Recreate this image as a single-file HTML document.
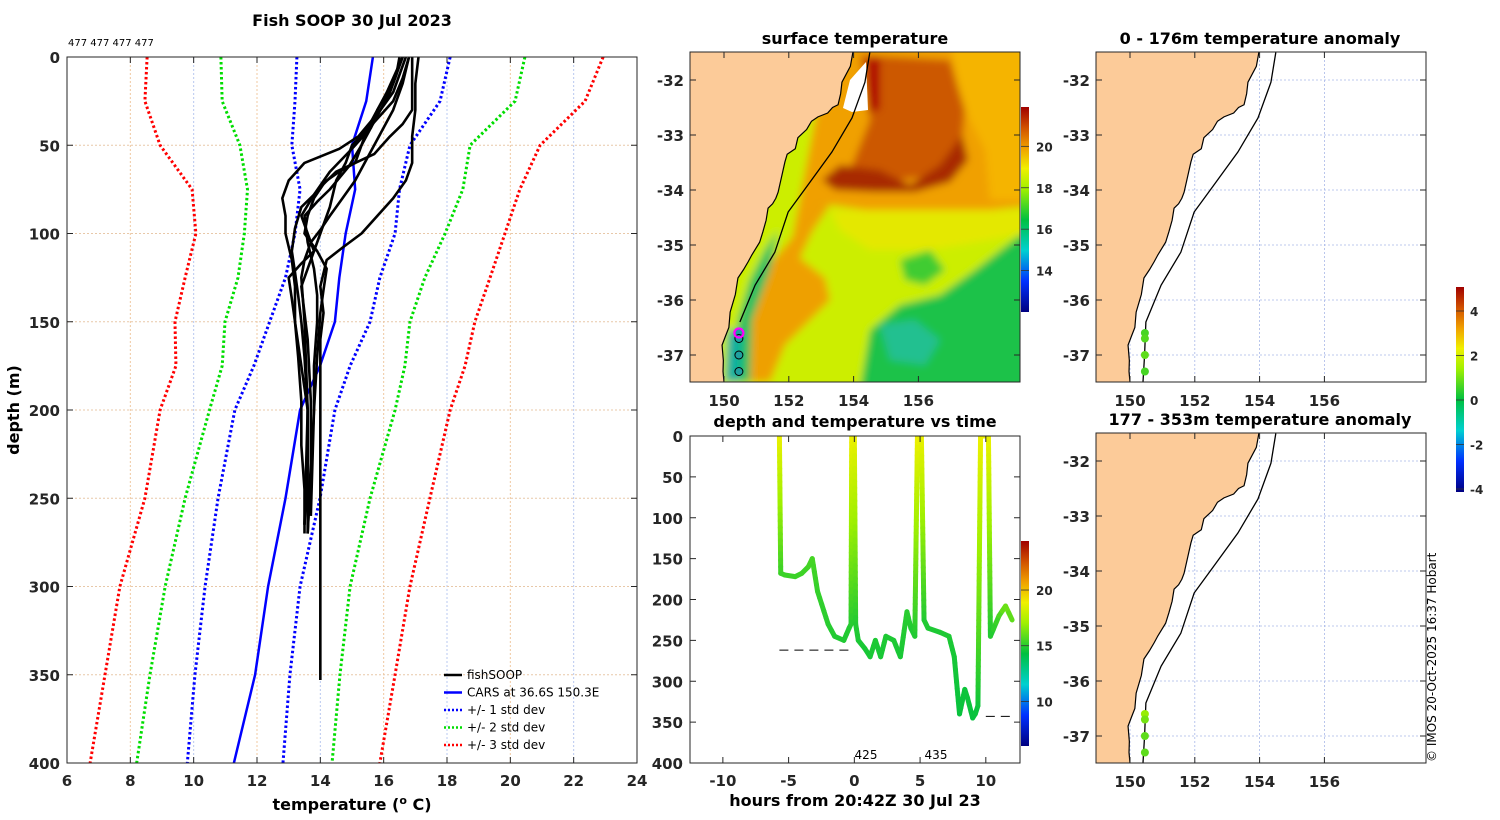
<!DOCTYPE html>
<html><head><meta charset="utf-8">
<style>
html,body{margin:0;padding:0;background:#fff;}
svg{display:block;font-family:"DejaVu Sans","Liberation Sans",sans-serif;}
.tk{font-size:15px;font-weight:bold;fill:#262626;}
.ttl{font-size:16px;font-weight:bold;fill:#000;}
.lg{font-size:12px;fill:#000;}
</style></head>
<body>
<svg id="fig" width="1500" height="820" viewBox="0 0 1500 820" xmlns="http://www.w3.org/2000/svg">
<defs>
<filter id="blur" x="-5%" y="-5%" width="110%" height="110%"><feGaussianBlur stdDeviation="4"/></filter>
<clipPath id="clipMap"><rect x="690" y="52" width="330" height="330"/></clipPath>
<clipPath id="clipR1"><rect x="1096" y="52" width="330" height="330"/></clipPath>
<clipPath id="clipR2"><rect x="1096" y="433" width="330" height="330"/></clipPath>
<clipPath id="clipL"><rect x="67" y="57" width="570" height="706"/></clipPath>
<clipPath id="clipT"><rect x="690" y="436" width="330" height="327"/></clipPath>
<linearGradient id="jet" x1="0" y1="1" x2="0" y2="0">
<stop offset="0" stop-color="#000080"/><stop offset="0.15" stop-color="#0030ff"/><stop offset="0.3" stop-color="#00d0d0"/><stop offset="0.45" stop-color="#00c040"/><stop offset="0.6" stop-color="#a0f000"/><stop offset="0.7" stop-color="#f0f000"/><stop offset="0.8" stop-color="#f0a000"/><stop offset="0.9" stop-color="#d05000"/><stop offset="1" stop-color="#a00000"/>
</linearGradient>
</defs>
<g id="root"></g>
</svg>
<script>
// ---------- Left profile data ----------
const stdDepths = [0,25,50,75,100,125,150,175,200,250,300,350,400];
const redLeft   = [8.53,8.46,8.94,9.95,10.07,9.73,9.41,9.44,8.94,8.46,7.67,7.2,6.73];
const greenLeft = [10.86,10.9,11.46,11.7,11.6,11.4,10.99,10.9,10.5,9.73,9.1,8.62,8.2];
const blueLeft  = [13.26,13.2,13.1,13.36,13.2,12.9,12.4,11.9,11.3,10.77,10.36,10.04,9.8];
const carsMean  = [15.66,15.45,15.0,15.1,14.8,14.6,14.46,13.99,13.36,12.9,12.35,11.94,11.27];
const blueRight = [18.1,17.78,16.83,16.5,16.36,15.88,15.57,14.94,14.46,13.99,13.36,13.04,12.82];
const greenRight= [20.46,20.15,18.73,18.5,17.94,17.3,16.83,16.67,16.36,15.57,14.94,14.62,14.37];
const redRight  = [22.93,22.36,20.94,20.3,19.83,19.36,18.88,18.57,18.1,17.46,16.83,16.36,15.88];
const profiles = [
 [[0,16.7],[10,16.5],[20,16.3],[30,15.9],[45,15.2],[52,14.6],[60,13.5],[66,13.2],[70,13.0],[80,12.8],[90,12.9],[100,12.9],[115,13.1],[130,13.2],[150,13.2],[170,13.3],[195,13.4],[220,13.4],[245,13.5],[270,13.5]],
 [[0,17.1],[15,17.0],[30,17.0],[45,16.9],[60,16.9],[70,16.7],[80,16.3],[90,15.8],[100,15.3],[108,14.7],[115,14.2],[130,14.0],[145,14.1],[160,14.0],[200,14.0],[250,14.0],[300,14.0],[353,14.0]],
 [[0,16.6],[15,16.3],[30,15.8],[40,15.6],[50,15.3],[62,14.9],[75,14.3],[82,13.9],[90,13.5],[105,13.6],[120,13.8],[135,13.9],[150,13.9],[175,13.8],[200,13.8],[260,13.7]],
 [[0,16.8],[12,16.6],[25,16.3],[37,15.7],[50,15.0],[60,14.8],[70,14.5],[85,14.3],[100,14.0],[115,13.7],[130,13.4],[145,13.5],[160,13.6],[195,13.7],[230,13.7],[270,13.6]],
 [[0,16.5],[10,16.4],[20,16.2],[30,15.9],[40,15.6],[52,15.0],[65,14.3],[78,13.8],[90,13.4],[100,13.6],[110,13.8],[117,13.4],[125,13.0],[137,13.1],[150,13.2],[175,13.4],[200,13.6],[265,13.5]],
 [[0,16.9],[15,16.9],[30,16.9],[38,16.6],[45,16.2],[55,15.7],[60,15.1],[65,14.5],[72,14.1],[80,13.8],[90,13.6],[100,13.5],[110,13.9],[120,14.2],[132,14.1],[145,14.0],[170,13.9],[200,13.8],[270,13.6]],
 [[0,16.6],[20,16.1],[40,15.5],[50,15.3],[60,15.1],[65,14.6],[70,14.2],[78,13.8],[85,13.4],[97,13.2],[110,13.1],[122,13.2],[135,13.3],[150,13.4],[170,13.5],[200,13.6],[230,13.6],[265,13.5]],
 [[0,16.8],[15,16.6],[30,16.3],[40,16.0],[50,15.7],[60,15.4],[70,15.1],[80,14.7],[90,14.3],[98,14.0],[105,13.7],[115,13.5],[125,13.4],[150,13.5],[200,13.6],[270,13.6]]
];
const tempTicks = [6,8,10,12,14,16,18,20,22,24];
const depthTicks = [0,50,100,150,200,250,300,350,400];
// ---------- time/depth data ----------
const tdHours = [-5.7,-5.6,-5.3,-4.5,-4,-3.5,-3.2,-2.8,-2.0,-1.5,-0.8,-0.4,-0.25,-0.2,0,0.1,0.3,0.8,1.2,1.6,2.0,2.4,3.0,3.5,4.0,4.3,4.6,4.8,5.1,5.3,5.6,6.5,7.2,7.6,8.0,8.4,8.6,9.0,9.2,9.4,9.6,10.2,10.35,11.0,11.5,12.0];
const tdDepths = [0,168,170,172,168,160,150,190,230,245,250,235,230,0,0,230,250,260,270,250,270,245,250,270,215,235,245,0,0,225,235,240,245,270,340,310,320,345,340,330,0,0,245,220,208,225];
const tdTemps  = [18.8,15.3,15.3,15.3,15.3,15.4,15.5,15.2,15.0,14.9,14.8,14.9,14.9,18.8,18.8,14.9,14.8,14.7,14.7,14.8,14.7,14.8,14.8,14.7,15.0,14.9,14.8,18.8,18.8,14.9,14.8,14.8,14.8,14.7,14.4,14.5,14.5,14.4,14.4,14.5,18.8,18.8,14.8,15.4,16.2,15.8];
const hourTicks = [-10,-5,0,5,10];
const tdDepthTicks = [0,50,100,150,200,250,300,350,400];
// ---------- map data ----------
const coastLon = [153.98,153.9,153.64,153.6,153.52,153.35,153.2,152.9,152.7,152.55,152.28,152.2,151.95,151.88,151.8,151.67,151.6,151.5,151.36,151.3,151.2,151.1,150.86,150.75,150.6,150.43,150.35,150.19,150.15,150.05,149.94,149.98,149.97,150.0];
const coastLat = [-31.49,-31.75,-32.04,-32.25,-32.45,-32.5,-32.6,-32.67,-32.75,-32.9,-33.05,-33.25,-33.35,-33.49,-33.7,-34.04,-34.15,-34.25,-34.33,-34.55,-34.76,-34.95,-35.18,-35.3,-35.45,-35.6,-35.9,-36.22,-36.5,-36.65,-36.82,-37.1,-37.3,-37.5];
const shelfLon = [154.5,154.35,153.95,153.33,152.59,151.98,151.57,150.96,150.49,150.45,150.4];
const shelfLat = [-31.5,-32.04,-32.69,-33.31,-33.91,-34.4,-35.13,-35.73,-36.4,-37.0,-37.5];
const stnLon = [150.46,150.46,150.46,150.46];
const stnLat = [-36.6,-36.7,-37.0,-37.3];
const anomTop = [0.5,0.6,0.7,0.5];
const anomBot = [1.2,0.9,0.7,0.7];
const lonTicks = [150,152,154,156];
const latTicks = [-32,-33,-34,-35,-36,-37];
const sstTicks = [14,16,18,20];
const tdCbTicks = [10,15,20];
const anomTicks = [-4,-2,0,2,4];

const NS="http://www.w3.org/2000/svg";
const root=document.getElementById('root');
function el(tag,attrs,parent){const e=document.createElementNS(NS,tag);for(const k in attrs)e.setAttribute(k,attrs[k]);(parent||root).appendChild(e);return e;}
function txt(x,y,s,cls,anchor,parent){const t=el('text',{x:x,y:y,'class':cls,'text-anchor':anchor||'middle'},parent);t.textContent=s;return t;}

function jet(v){
 const st=[[0,[0,0,128]],[0.15,[0,48,255]],[0.3,[0,208,208]],[0.45,[0,192,64]],[0.6,[160,240,0]],[0.7,[240,240,0]],[0.8,[240,160,0]],[0.9,[208,80,0]],[1,[160,0,0]]];
 v=Math.max(0,Math.min(1,v));
 for(let i=1;i<st.length;i++){if(v<=st[i][0]){const a=st[i-1],b=st[i],f=(v-a[0])/(b[0]-a[0]);const c=a[1].map((x,j)=>Math.round(x+(b[1][j]-x)*f));return `rgb(${c})`;}}
 return 'rgb(160,0,0)';
}

// ===== LEFT PANEL =====
const L={x0:67,x1:637,y0:57,y1:763};
const lx=t=>L.x0+(t-6)/18*(L.x1-L.x0);
const ly=d=>L.y0+d/400*(L.y1-L.y0);
const gL=el('g',{});


el('rect',{x:L.x0,y:L.y0,width:L.x1-L.x0,height:L.y1-L.y0,fill:'#fff'},gL);
tempTicks.forEach((t,i)=>{ if(i>0&&i<tempTicks.length-1) el('line',{x1:lx(t),x2:lx(t),y1:L.y0,y2:L.y1,stroke:i%2?'#f0c8a0':'#b8c8f0','stroke-width':1,'stroke-dasharray':'2,2'},gL);});
depthTicks.forEach((d,i)=>{ if(i>0&&i<depthTicks.length-1) el('line',{x1:L.x0,x2:L.x1,y1:ly(d),y2:ly(d),stroke:'#e8c8a8','stroke-width':1,'stroke-dasharray':'2,2'},gL);});
const gLc=el('g',{'clip-path':'url(#clipL)'},gL);
function stdLine(arr,color,dash,name,w){const p=el('polyline',{points:arr.map((t,i)=>lx(t)+','+ly(stdDepths[i])).join(' '),fill:'none',stroke:color,'stroke-width':w||3,'stroke-dasharray':dash||'none','stroke-linejoin':'round'},gLc);

}
stdLine(redLeft,'#ff0000','2.5,2.5','std3-left');stdLine(redRight,'#ff0000','2.5,2.5','std3-right');
stdLine(greenLeft,'#00dd00','2.5,2.5','std2-left');stdLine(greenRight,'#00dd00','2.5,2.5','std2-right');
stdLine(blueLeft,'#0000ff','2.5,2.5','std1-left');stdLine(blueRight,'#0000ff','2.5,2.5','std1-right');
stdLine(carsMean,'#0000ff',null,'cars-mean',2.5);
profiles.forEach((pr,k)=>{const p=el('polyline',{points:pr.map(q=>lx(q[1])+','+ly(q[0])).join(' '),fill:'none',stroke:'#000','stroke-width':2.6,'stroke-linejoin':'round'},gLc);

});
el('rect',{x:L.x0,y:L.y0,width:L.x1-L.x0,height:L.y1-L.y0,fill:'none',stroke:'#262626','stroke-width':1},gL);
tempTicks.forEach(t=>{el('line',{x1:lx(t),x2:lx(t),y1:L.y0,y2:L.y0+6,stroke:'#262626'},gL);el('line',{x1:lx(t),x2:lx(t),y1:L.y1,y2:L.y1-6,stroke:'#262626'},gL);
 const tt=txt(lx(t),786,String(t),'tk','middle',gL);});
depthTicks.forEach(d=>{el('line',{x1:L.x0,x2:L.x0+6,y1:ly(d),y2:ly(d),stroke:'#262626'},gL);el('line',{x1:L.x1,x2:L.x1-6,y1:ly(d),y2:ly(d),stroke:'#262626'},gL);
 const tt=txt(60,ly(d)+6,String(d),'tk','end',gL);});
</script>
<script>
(function(){
const t1=txt(352,26,'Fish SOOP 30 Jul 2023','ttl');

const t2=txt(68,46,'477 477 477 477','lg','start');t2.style.fontSize='10px';

const t3=txt(0,0,'depth (m)','ttl');t3.setAttribute('transform','translate(19,410) rotate(-90)');

const t4=el('text',{x:352,y:810,'class':'ttl','text-anchor':'middle'});t4.innerHTML='temperature (<tspan dy="-6" font-size="11">o</tspan><tspan dy="6"> C)</tspan>';

const leg=el('g',{});
const items=[['fishSOOP','#000',null],['CARS at 36.6S 150.3E','#0000ff',null],['+/- 1 std dev','#0000ff','2,2'],['+/- 2 std dev','#00dd00','2,2'],['+/- 3 std dev','#ff0000','2,2']];
items.forEach((it,i)=>{const y=675+i*17.5;const g=el('g',{},leg);
 el('line',{x1:444,x2:462,y1:y,y2:y,stroke:it[1],'stroke-width':2.5,'stroke-dasharray':it[2]||'none'},g);txt(467,y+4,it[0],'lg','start',g);});
})();

function mapper(x0,y0){return {x:lon=>x0+34+(lon-150)*32.4, y:lat=>y0+28+(-32-lat)*55};}
function drawMapFrame(g,x0,y0,m,gridColor){
 lonTicks.forEach(l=>{el('line',{x1:m.x(l),x2:m.x(l),y1:y0,y2:y0+330,stroke:gridColor,'stroke-dasharray':'2,2','stroke-width':0.8},g);});
 latTicks.forEach(l=>{el('line',{x1:x0,x2:x0+330,y1:m.y(l),y2:m.y(l),stroke:gridColor,'stroke-dasharray':'2,2','stroke-width':0.8},g);});
}
function drawAxes(g,x0,y0,m){
 el('rect',{x:x0,y:y0,width:330,height:330,fill:'none',stroke:'#262626'},g);
 lonTicks.forEach(l=>{el('line',{x1:m.x(l),x2:m.x(l),y1:y0+330,y2:y0+324,stroke:'#262626'},g);el('line',{x1:m.x(l),x2:m.x(l),y1:y0,y2:y0+6,stroke:'#262626'},g);
  const t=txt(m.x(l),y0+354,String(l),'tk','middle',g);});
 latTicks.forEach(l=>{el('line',{x1:x0,x2:x0+6,y1:m.y(l),y2:m.y(l),stroke:'#262626'},g);el('line',{x1:x0+330,x2:x0+324,y1:m.y(l),y2:m.y(l),stroke:'#262626'},g);
  const t=txt(x0-6,m.y(l)+6,String(l),'tk','end',g);});
}
function landPath(m,x0,y0){return `M${x0-2},${y0-2} L`+coastLon.map((l,i)=>m.x(l)+','+m.y(coastLat[i])).join(' L')+` L${x0-2},${y0+332} Z`;}
function linePts(m,lo,la){return lo.map((l,i)=>m.x(l)+','+m.y(la[i])).join(' ');}

// ===== SST MAP =====
(function(){
const x0=690,y0=52,m=mapper(x0,y0);
const g=el('g',{});
const gc=el('g',{'clip-path':'url(#clipMap)'},g);
const fld=el('g',{filter:'url(#blur)'},gc);
// base yellow-green
el('rect',{x:680,y:40,width:360,height:360,fill:'#ccee00'},fld);
// northern warm (orange) region
el('polygon',{points:'830,40 1040,40 1040,205 990,210 940,215 880,212 830,205 818,202 812,232 790,250',fill:'#f0a000'},fld);
el('polygon',{points:'950,40 1040,40 1040,200 990,200 985,150 960,100',fill:'#f5b400'},fld);
// brownish eddy
el('polygon',{points:'860,55 950,60 965,110 960,160 940,175 900,180 870,185 850,170 870,120',fill:'#cc5800'},fld);
// dark red band
el('polygon',{points:'822,180 840,165 880,170 910,185 940,165 962,135 968,160 950,182 915,192 875,192 835,190',fill:'#a82a00'},fld);
el('polygon',{points:'868,58 880,58 880,110 868,112',fill:'#b00000'},fld);
// orange coastal band
el('polygon',{points:'790,240 818,202 830,205 812,232 800,258 825,278 830,300 800,330 785,345 770,382 745,382 748,330 765,270',fill:'#eea000'},fld);
// yellow zone in middle
el('polygon',{points:'830,210 1040,210 1040,230 990,240 930,250 870,250 840,230',fill:'#e4e800'},fld);
// green bottom right
el('polygon',{points:'858,400 870,330 900,305 940,295 975,270 1020,235 1040,235 1040,400',fill:'#1fc24a'},fld);
el('polygon',{points:'900,260 930,250 945,270 925,285 905,280',fill:'#40cc30'},fld);
el('polygon',{points:'880,325 915,320 940,340 925,365 890,360',fill:'#20c090'},fld);
// coastal cool strip
el('polygon',{points:'735,382 738,320 750,280 765,250 778,230 770,270 752,320 750,382',fill:'#20c060'},fld);
el('polygon',{points:'725,382 728,330 742,330 740,382',fill:'#10b0a0'},fld);
// white gaps
el('polygon',{points:'850,80 866,62 868,110 852,112 843,108',fill:'#ffffff'},gc);
el('path',{d:landPath(m,x0,y0),fill:'#fccb99',stroke:'#000','stroke-width':1.2},gc);
el('polyline',{points:linePts(m,shelfLon.slice(0,9),shelfLat.slice(0,9)),fill:'none',stroke:'#000','stroke-width':1.3},gc);
stnLon.forEach((l,i)=>{const c=el('circle',{cx:m.x(l),cy:m.y(stnLat[i]),r:4,fill:'#20a0a0',stroke:'#000','stroke-width':1},gc);
 });
el('circle',{cx:m.x(stnLon[0]),cy:m.y(stnLat[0]),r:4.5,fill:'none',stroke:'#ff00ff','stroke-width':2.2},gc);
drawAxes(g,x0,y0,m);
const t=txt(855,44,'surface temperature','ttl','middle',g);
const cb=el('g',{},g);
const cy=v=>312-(v-12)/(21.9-12)*205;
el('rect',{x:1021,y:107,width:8,height:205,fill:'url(#jet)'},cb);
sstTicks.forEach(v=>{el('line',{x1:1021,x2:1029,y1:cy(v),y2:cy(v),stroke:'#333','stroke-width':0.8},cb);const tt=txt(1036,cy(v)+5,String(v),'tk','start',cb);tt.style.fontSize='12px';});
})();

// ===== TIME DEPTH =====
(function(){
const x0=690,x1=1020,y0=436,y1=763;
const tx=h=>x0+(h+12.5)/25.1*(x1-x0);
const ty=d=>y0+d/400*(y1-y0);
const g=el('g',{});
const gc=el('g',{'clip-path':'url(#clipT)'},g);
el('line',{x1:tx(-5.7),x2:tx(-0.4),y1:ty(262),y2:ty(262),stroke:'#000','stroke-dasharray':'9,6'},gc);
el('line',{x1:tx(10),x2:tx(12.2),y1:ty(343),y2:ty(343),stroke:'#000','stroke-dasharray':'9,6'},gc);
const col=t=>jet((t-6)/(24.4-6));
for(let i=1;i<tdHours.length;i++){
 const n=Math.max(1,Math.round(Math.abs(tdDepths[i]-tdDepths[i-1])/8));
 for(let k=0;k<n;k++){const f0=k/n,f1=(k+1)/n;
  const h0=tdHours[i-1]+(tdHours[i]-tdHours[i-1])*f0,h1=tdHours[i-1]+(tdHours[i]-tdHours[i-1])*f1;
  const d0=tdDepths[i-1]+(tdDepths[i]-tdDepths[i-1])*f0,d1=tdDepths[i-1]+(tdDepths[i]-tdDepths[i-1])*f1;
  const tmp=tdTemps[i-1]+(tdTemps[i]-tdTemps[i-1])*((f0+f1)/2);
  const s=el('line',{x1:tx(h0),y1:ty(d0),x2:tx(h1),y2:ty(d1),stroke:col(tmp),'stroke-width':5,'stroke-linecap':'round'},gc);
  
  
 }}
el('rect',{x:x0,y:y0,width:x1-x0,height:y1-y0,fill:'none',stroke:'#262626'},g);
hourTicks.forEach(h=>{el('line',{x1:tx(h),x2:tx(h),y1:y1,y2:y1-6,stroke:'#262626'},g);el('line',{x1:tx(h),x2:tx(h),y1:y0,y2:y0+6,stroke:'#262626'},g);txt(tx(h),786,String(h),'tk','middle',g);});
tdDepthTicks.forEach(d=>{el('line',{x1:x0,x2:x0+6,y1:ty(d),y2:ty(d),stroke:'#262626'},g);el('line',{x1:x1,x2:x1-6,y1:ty(d),y2:ty(d),stroke:'#262626'},g);txt(683,ty(d)+6,String(d),'tk','end',g);});
const a=txt(866,759,'425','lg','middle',g);const b=txt(936,759,'435','lg','middle',g);


const t=txt(855,427,'depth and temperature vs time','ttl','middle',g);
const xl=txt(855,806,'hours from 20:42Z 30 Jul 23','ttl','middle',g);
const cb=el('g',{},g);
const cy=v=>746-(v-6)/(24.4-6)*205;
el('rect',{x:1021,y:541,width:8,height:205,fill:'url(#jet)'},cb);
tdCbTicks.forEach(v=>{el('line',{x1:1021,x2:1029,y1:cy(v),y2:cy(v),stroke:'#333','stroke-width':0.8},cb);const tt=txt(1036,cy(v)+5,String(v),'tk','start',cb);tt.style.fontSize='12px';});
})();

// ===== ANOMALY MAPS =====
function anomMap(y0,vals,title,name,clip){
 const x0=1096,m=mapper(x0,y0);
 const g=el('g',{});
 el('rect',{x:x0,y:y0,width:330,height:330,fill:'#fff'},g);
 drawMapFrame(g,x0,y0,m,'#a8b8e8');
 const gc=el('g',{'clip-path':'url('+clip+')'},g);
 el('path',{d:landPath(m,x0,y0),fill:'#fccb99',stroke:'#000','stroke-width':1.2},gc);
 el('polyline',{points:linePts(m,shelfLon,shelfLat),fill:'none',stroke:'#000','stroke-width':1.3},gc);
 stnLon.forEach((l,i)=>{const c=el('circle',{cx:m.x(l),cy:m.y(stnLat[i]),r:4,fill:jet((vals[i]+4.3)/9.3),stroke:'none'},gc);
  });
 drawAxes(g,x0,y0,m);
 const t=txt(1260,y0-8,title,'ttl','middle',g);
}
anomMap(52,anomTop,'0 - 176m temperature anomaly','anomaly-map-shallow','#clipR1');
anomMap(433,anomBot,'177 - 353m temperature anomaly','anomaly-map-deep','#clipR2');
(function(){
const cb=el('g',{});
const cy=v=>400-v*22.25;
el('rect',{x:1456,y:287,width:8,height:205,fill:'url(#jet)'},cb);
anomTicks.forEach(v=>{el('line',{x1:1456,x2:1464,y1:cy(v),y2:cy(v),stroke:'#333','stroke-width':0.8},cb);const tt=txt(1470,cy(v)+5,String(v),'tk','start',cb);tt.style.fontSize='12px';});
const c=txt(0,0,'© IMOS 20-Oct-2025 16:37 Hobart','lg','start');c.setAttribute('transform','translate(1436,762) rotate(-90)');

})();
</script>
</body></html>
